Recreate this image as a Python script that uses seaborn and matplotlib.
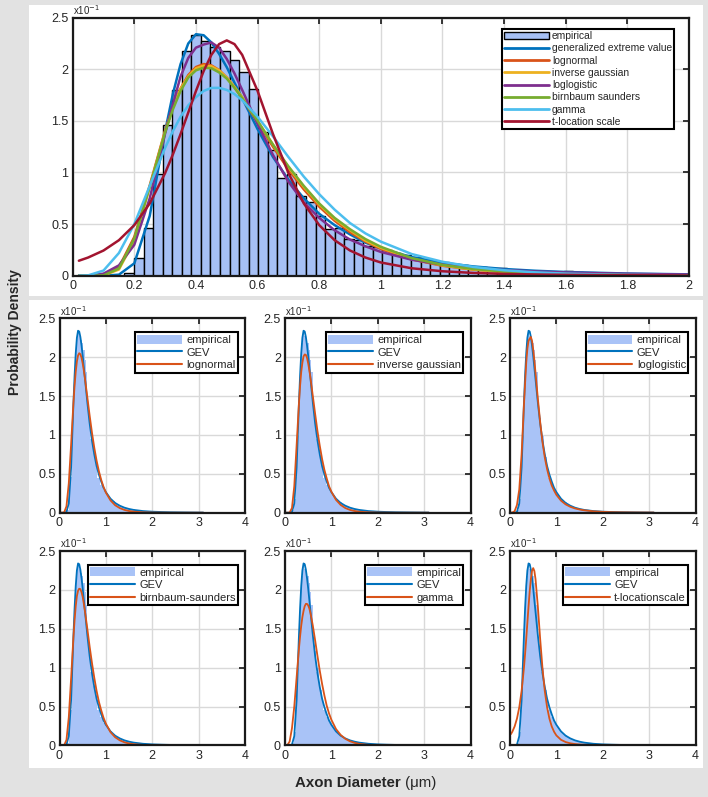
import numpy as np
import pandas as pd
import matplotlib
matplotlib.use("Agg")
import matplotlib.pyplot as plt
from matplotlib.patches import Patch, Rectangle
from matplotlib.lines import Line2D
import seaborn as sns

# empirical histogram of axon diameter (density, in units of 1e-1)
hist_start = 0.168
hist_width = 0.031
hist_heights = [0.03, 0.17, 0.46, 0.99, 1.46, 1.80, 2.18, 2.33, 2.27, 2.22,
                2.18, 2.09, 1.97, 1.81, 1.39, 1.22, 0.95, 0.99, 0.77, 0.71,
                0.58, 0.45, 0.46, 0.36, 0.35, 0.29, 0.28, 0.25, 0.22, 0.20,
                0.18, 0.16, 0.145, 0.135, 0.11, 0.10, 0.085, 0.08, 0.07, 0.075,
                0.06, 0.06, 0.05, 0.05, 0.04, 0.04, 0.045, 0.035, 0.03, 0.025,
                0.02, 0.025, 0.02, 0.015, 0.015, 0.01, 0.01, 0.015, 0.02, 0.01,
                0.005, 0.005, 0.004, 0.004, 0.003, 0.003, 0.002, 0.002, 0.002, 0.001]

# fitted pdfs
x_fit = [0.02, 0.05, 0.1, 0.15, 0.2, 0.25, 0.3, 0.325, 0.35, 0.375, 0.4, 0.425, 0.45,
         0.475, 0.5, 0.525, 0.55, 0.6, 0.65, 0.7, 0.75, 0.8, 0.85, 0.9, 0.95, 1.0,
         1.1, 1.2, 1.3, 1.4, 1.5, 1.6, 1.8, 2.0, 2.2, 2.4, 2.7, 3.1]
gev = [0.0, 0.0, 0.0, 0.01, 0.12, 0.58, 1.40, 1.76, 2.05, 2.25, 2.34, 2.33, 2.26,
       2.15, 2.02, 1.87, 1.72, 1.42, 1.15, 0.93, 0.75, 0.60, 0.49, 0.40, 0.32, 0.265,
       0.18, 0.125, 0.09, 0.065, 0.048, 0.036, 0.021, 0.013, 0.009, 0.006, 0.004, 0.002]
lognormal = [0.0, 0.0, 0.004, 0.082, 0.376, 0.875, 1.408, 1.635, 1.814, 1.944, 2.022, 2.051, 2.038,
             1.993, 1.920, 1.827, 1.720, 1.486, 1.249, 1.030, 0.836, 0.669, 0.532, 0.421, 0.331, 0.259,
             0.158, 0.096, 0.059, 0.036, 0.022, 0.014, 0.005, 0.002, 0.001, 0.0, 0.0, 0.0]
inv_gauss = [0.0, 0.0, 0.002, 0.06, 0.34, 0.86, 1.40, 1.63, 1.81, 1.93, 2.01, 2.035, 2.03,
             1.99, 1.92, 1.83, 1.73, 1.50, 1.27, 1.05, 0.86, 0.69, 0.55, 0.44, 0.34, 0.27,
             0.165, 0.10, 0.06, 0.036, 0.022, 0.013, 0.005, 0.002, 0.001, 0.0, 0.0, 0.0]
loglogistic = [0.0, 0.002, 0.02, 0.10, 0.30, 0.75, 1.38, 1.66, 1.93, 2.11, 2.21, 2.24, 2.26,
               2.21, 2.10, 1.96, 1.80, 1.47, 1.17, 0.91, 0.71, 0.56, 0.44, 0.35, 0.285, 0.23,
               0.155, 0.107, 0.076, 0.055, 0.041, 0.031, 0.018, 0.011, 0.007, 0.005, 0.003, 0.002]
birnbaum = [0.0, 0.0, 0.003, 0.07, 0.36, 0.86, 1.39, 1.61, 1.79, 1.92, 1.99, 2.015, 2.01,
            1.97, 1.91, 1.82, 1.72, 1.50, 1.27, 1.06, 0.87, 0.70, 0.56, 0.45, 0.355, 0.28,
            0.17, 0.105, 0.065, 0.04, 0.025, 0.016, 0.006, 0.003, 0.001, 0.0, 0.0, 0.0]
gamma = [0.0, 0.003, 0.05, 0.22, 0.50, 0.87, 1.24, 1.40, 1.54, 1.65, 1.73, 1.79, 1.82,
         1.82, 1.80, 1.76, 1.70, 1.54, 1.35, 1.15, 0.96, 0.79, 0.64, 0.51, 0.41, 0.33,
         0.21, 0.135, 0.085, 0.053, 0.033, 0.02, 0.007, 0.003, 0.001, 0.0, 0.0, 0.0]
t_loc = [0.145, 0.176, 0.244, 0.344, 0.490, 0.70, 0.995, 1.174, 1.372, 1.581, 1.790, 1.983, 2.140,
         2.244, 2.28, 2.244, 2.140, 1.790, 1.372, 0.995, 0.70, 0.49, 0.344, 0.244, 0.176, 0.128,
         0.072, 0.043, 0.027, 0.0175, 0.0118, 0.0083, 0.0046, 0.0026, 0.0016, 0.0011, 0.0007, 0.0004]

fits = [("generalized extreme value", "GEV", gev, "#0072BD"),
        ("lognormal", "lognormal", lognormal, "#D95319"),
        ("inverse gaussian", "inverse gaussian", inv_gauss, "#EDB120"),
        ("loglogistic", "loglogistic", loglogistic, "#7E2F8E"),
        ("birnbaum saunders", "birnbaum-saunders", birnbaum, "#77AC30"),
        ("gamma", "gamma", gamma, "#4DBEEE"),
        ("t-location scale", "t-locationscale", t_loc, "#A2142F")]

y_ticks = [0, 0.5, 1, 1.5, 2, 2.5]

bar_color = "#a6c0f4"
fill_color = "#a9c3f7"

sns.set_style("white")
plt.rcParams['font.family'] = ['Liberation Sans', 'DejaVu Sans']

W, H = 708, 797
fig = plt.figure(figsize=(W / 100, H / 100), dpi=100, facecolor="#e2e2e2")


def px_rect(x0, y0, x1, y1):
    return [x0 / W, 1 - y1 / H, (x1 - x0) / W, (y1 - y0) / H]


for r in [(29, 5, 703, 296), (29, 300, 703, 768)]:
    b = px_rect(*r)
    fig.patches.append(Rectangle((b[0], b[1]), b[2], b[3], transform=fig.transFigure,
                                 facecolor="white", edgecolor="none", zorder=-1))

edges = [float(e) for e in hist_start + hist_width * np.arange(len(hist_heights) + 1)]
hist_df = pd.DataFrame({"diameter": [e + hist_width / 2 for e in edges[:-1]],
                        "density": hist_heights})


def style_axes(ax, xmax, xticks):
    ax.set_facecolor("white")
    ax.set_xlim(0, xmax)
    ax.set_ylim(0, 2.5)
    ax.set_xticks(xticks)
    ax.set_xticklabels([f"{v:g}" for v in xticks])
    ax.set_yticks(y_ticks)
    ax.set_yticklabels([f"{v:g}" for v in y_ticks])
    ax.grid(True, color="#d9d9d9", linewidth=1.0)
    ax.set_axisbelow(True)
    ax.tick_params(direction="in", top=True, right=True, length=4, width=1.3,
                   labelsize=9, pad=3)
    for s in ax.spines.values():
        s.set_visible(True)
        s.set_linewidth(1.6)
        s.set_color("#1a1a1a")
    ax.set_xlabel("")
    ax.set_ylabel("")
    ax.text(0.0, 1.004, "x10$^{-1}$", transform=ax.transAxes, fontsize=7,
            ha="left", va="bottom")


# top panel: all fits
ax = fig.add_axes(px_rect(72.7, 17.7, 689, 275.7))
sns.histplot(data=hist_df, x="diameter", weights="density", bins=edges, color=bar_color,
             edgecolor="black", linewidth=1.0, alpha=1, ax=ax)
for name, short, vals, col in fits:
    sns.lineplot(x=x_fit, y=vals, color=col, linewidth=1.8, ax=ax)
style_axes(ax, 2, [round(0.2 * i, 1) for i in range(11)])
handles = [Patch(facecolor=bar_color, edgecolor="black", linewidth=1.0)]
handles += [Line2D([], [], color=c, linewidth=2) for _, _, _, c in fits]
labels = ["empirical"] + [n for n, _, _, _ in fits]
leg = ax.legend(handles, labels, loc="upper right", bbox_to_anchor=(0.976, 0.956),
                borderaxespad=0, fontsize=7.4, frameon=True, fancybox=False,
                edgecolor="black", framealpha=1, labelspacing=0.22,
                handlelength=4.4, handletextpad=0.3, borderpad=0.2)
leg.get_frame().set_linewidth(1.5)

# small panels: GEV against each other fit
col_left = [59.5, 285, 510]
row_top = [318.3, 551]
for i, (name, short, vals, col) in enumerate(fits[1:]):
    r, c = divmod(i, 3)
    x0 = col_left[c]
    y0 = row_top[r]
    ax = fig.add_axes(px_rect(x0, y0, x0 + 185.5, y0 + 194.4))
    sns.histplot(data=hist_df, x="diameter", weights="density", bins=edges, color=fill_color,
                 edgecolor="none", linewidth=0, alpha=1, ax=ax)
    sns.lineplot(x=x_fit, y=gev, color="#0072BD", linewidth=1.3, ax=ax)
    sns.lineplot(x=x_fit, y=vals, color="#D95319", linewidth=1.3, ax=ax)
    style_axes(ax, 4, [0, 1, 2, 3, 4])
    h = [Patch(facecolor=fill_color, edgecolor="none"),
         Line2D([], [], color="#0072BD", linewidth=1.5),
         Line2D([], [], color="#D95319", linewidth=1.5)]
    leg = ax.legend(h, ["empirical", "GEV", short], loc="upper right",
                    bbox_to_anchor=(0.961, 0.928), borderaxespad=0, fontsize=8,
                    frameon=True, fancybox=False, edgecolor="black", framealpha=1,
                    labelspacing=0.2, handlelength=4.0, handleheight=0.9,
                    handletextpad=0.4, borderpad=0.2)
    leg.get_frame().set_linewidth(1.5)

fig.text(15 / W, 1 - 332 / H, "Probability Density", rotation=90, fontsize=10,
         fontweight="bold", ha="center", va="center")
fig.text(401 / W, 1 - 783 / H, "Axon Diameter", fontsize=10.8, fontweight="bold",
         ha="right", va="center")
fig.text(401 / W, 1 - 783 / H, " (μm)", fontsize=10.8, ha="left", va="center")

fig.savefig("out.png", dpi=100, facecolor=fig.get_facecolor())
